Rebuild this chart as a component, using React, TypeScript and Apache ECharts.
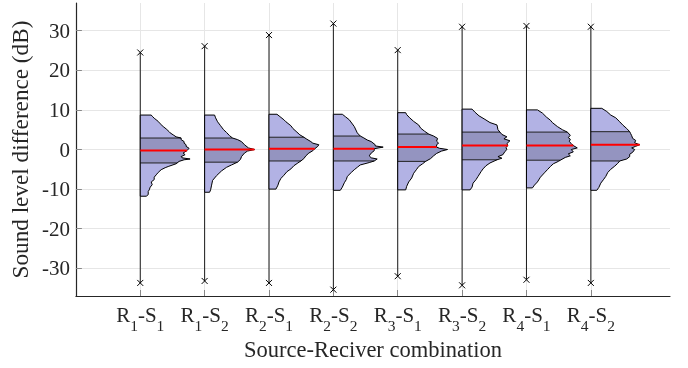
import React, { useEffect, useRef } from 'react';
import * as echarts from 'echarts';

const categories = ['R1-S1', 'R1-S2', 'R2-S1', 'R2-S2', 'R3-S1', 'R3-S2', 'R4-S1', 'R4-S2'];
const subR = ['1', '1', '2', '2', '3', '3', '4', '4'];
const subS = ['1', '2', '1', '2', '1', '2', '1', '2'];
const yTicks = [-30, -20, -10, 0, 10, 20, 30];

const maxima = [24.5, 26.1, 28.9, 31.8, 25.1, 31.0, 31.2, 31.0];
const minima = [-33.7, -33.2, -33.7, -35.4, -32.0, -34.3, -32.9, -33.7];
const q1 = [-3.4, -3.2, -2.9, -2.9, -3.0, -2.6, -2.7, -2.9];
const medians = [-0.25, 0.0, 0.2, 0.2, 0.6, 1.0, 1.0, 1.2];
const q3 = [2.9, 2.9, 3.1, 3.4, 3.9, 4.4, 4.4, 4.5];

// density profiles: [dB, density]
const profileR1S1 = [[-11.8, 6], [-11.4, 8], [-10.6, 8], [-10.2, 9], [-9.5, 10], [-8.9, 12], [-8.2, 11], [-7.6, 14], [-7.0, 14], [-6.4, 16], [-5.8, 18], [-5.1, 21], [-4.6, 25], [-4.3, 28], [-3.6, 36], [-3.0, 39], [-2.6, 44], [-2.4, 50], [-2.1, 42], [-1.8, 41], [-1.3, 45], [-0.9, 43], [-0.25, 47], [0.3, 49], [0.8, 46], [1.2, 46], [1.6, 44], [2.0, 44], [2.5, 41], [2.9, 41], [3.2, 36], [3.7, 33], [4.2, 30], [4.5, 29], [5.2, 26], [5.8, 23], [6.5, 20], [7.1, 18], [7.9, 14], [8.4, 12], [8.7, 11]];
const profileR1S2 = [[-10.8, 5], [-10.2, 6], [-9.0, 7], [-7.8, 8], [-6.6, 12], [-5.4, 17], [-4.5, 22], [-3.9, 27], [-3.2, 33], [-2.5, 36], [-1.8, 37], [-0.9, 40], [-0.4, 43], [0.0, 50], [0.4, 44], [1.2, 40], [2.0, 37], [2.5, 33], [2.9, 28], [3.5, 25], [4.3, 22], [5.0, 19], [6.0, 16], [7.0, 13], [8.0, 11], [8.7, 10]];
const profileR2S1 = [[-10.0, 7], [-9.0, 9], [-8.2, 10], [-7.3, 12], [-6.5, 15], [-5.6, 18], [-4.9, 22], [-4.1, 25], [-3.4, 29], [-2.9, 32], [-2.3, 35], [-1.6, 37], [-0.9, 40], [-0.3, 44], [0.2, 46], [0.8, 49], [1.2, 50], [1.6, 44], [2.0, 42], [2.6, 38], [3.1, 35], [3.7, 31], [4.4, 28], [5.3, 24], [6.0, 22], [7.0, 17], [7.5, 15], [8.3, 11], [8.9, 8]];
const profileR2S2 = [[-10.3, 7], [-9.5, 9], [-8.4, 11], [-7.6, 13], [-6.8, 14], [-5.8, 18], [-5.1, 21], [-4.5, 24], [-3.9, 27], [-3.3, 36], [-2.9, 41], [-2.4, 44], [-2.1, 38], [-1.6, 36], [-0.9, 38], [-0.3, 41], [0.2, 41], [0.6, 50], [0.9, 42], [1.2, 42], [2.0, 38], [2.4, 34], [3.0, 30], [3.4, 27], [4.2, 24], [5.8, 21], [7.5, 16], [8.3, 12], [8.9, 9]];
const profileR3S1 = [[-10.2, 8], [-9.3, 9], [-8.2, 11], [-7.2, 14], [-6.0, 16], [-5.0, 19], [-4.3, 21], [-3.6, 25], [-3.0, 28], [-2.3, 33], [-1.6, 36], [-1.0, 39], [-0.4, 44], [0.0, 50], [0.3, 42], [0.6, 39], [1.2, 39], [1.6, 41], [2.1, 39], [2.8, 40], [3.4, 36], [3.9, 31], [4.6, 27], [5.4, 23], [6.2, 21], [7.1, 16], [8.0, 12], [8.8, 9], [9.3, 8]];
const profileR3S2 = [[-10.2, 8], [-9.5, 10], [-8.5, 11], [-7.6, 14], [-6.8, 16], [-5.6, 19], [-4.9, 21], [-4.1, 24], [-3.4, 28], [-2.6, 35], [-2.2, 40], [-1.8, 36], [-1.3, 41], [-0.5, 43], [0.0, 45], [0.5, 44], [1.0, 46], [1.5, 45], [2.2, 48], [2.7, 42], [3.2, 45], [3.8, 40], [4.4, 38], [5.0, 36], [6.2, 35], [6.8, 28], [7.6, 23], [8.5, 17], [9.4, 13], [10.2, 10]];
const profileR4S1 = [[-9.7, 6], [-9.0, 8], [-8.2, 11], [-7.0, 14], [-5.9, 18], [-5.1, 21], [-4.3, 24], [-3.6, 27], [-3.0, 32], [-2.7, 34], [-2.0, 39], [-1.6, 44], [-1.1, 42], [-0.6, 47], [0.0, 45], [0.4, 51], [1.0, 47], [1.5, 45], [2.0, 43], [2.6, 44], [3.0, 42], [3.6, 44], [4.4, 41], [5.0, 36], [5.8, 31], [6.8, 26], [7.4, 24], [8.2, 20], [9.2, 16], [10.0, 11]];
const profileR4S2 = [[-10.3, 6], [-9.6, 8], [-8.5, 10], [-7.5, 13], [-6.8, 15], [-5.8, 17], [-5.0, 20], [-4.2, 24], [-3.5, 27], [-2.9, 29], [-2.4, 36], [-1.8, 39], [-1.2, 39], [-0.7, 42], [0.0, 44], [0.4, 41], [0.8, 45], [1.2, 49], [1.7, 44], [2.3, 45], [2.8, 42], [3.5, 41], [4.0, 40], [4.5, 39], [5.3, 36], [6.2, 32], [7.0, 29], [8.0, 25], [8.7, 20], [9.6, 16], [10.4, 11]];

const profiles = [profileR1S1, profileR1S2, profileR2S1, profileR2S2, profileR3S1, profileR3S2, profileR4S1, profileR4S2];

const DENSITY_SCALE = 1 / 64.6; // category units per density unit
const LIGHT = 'rgb(178,178,228)';
const DARK = 'rgb(148,148,192)';
const SERIF = '"Liberation Serif", "Times New Roman", serif';
const TXT = '#262626';

function widthAt(prof: number[][], y: number): number {
  for (let k = 0; k < prof.length - 1; k++) {
    const [y0, w0] = prof[k];
    const [y1, w1] = prof[k + 1];
    if (y >= y0 && y <= y1) {
      const t = y1 === y0 ? 0 : (y - y0) / (y1 - y0);
      return w0 + t * (w1 - w0);
    }
  }
  return 0;
}

export default function App() {
  const ref = useRef<HTMLDivElement>(null);
  useEffect(() => {
    if (!ref.current) return;
    const chart = echarts.init(ref.current, null, { renderer: 'svg' });

    const renderItem = (params: any, api: any) => {
      const i = params.dataIndex;
      const c = i + 1;
      const prof = profiles[i];
      const pt = (w: number, y: number) => api.coord([c + w * DENSITY_SCALE, y]);
      const yLo = prof[0][0];
      const yHi = prof[prof.length - 1][0];
      const outline = prof.map(([y, w]) => pt(w, y));
      const full = [pt(0, yLo), ...outline, pt(0, yHi)];
      const wq1 = widthAt(prof, q1[i]);
      const wq3 = widthAt(prof, q3[i]);
      const wmed = widthAt(prof, medians[i]);
      const inner = prof.filter(([y]) => y > q1[i] && y < q3[i]).map(([y, w]) => pt(w, y));
      const iqr = [pt(0, q1[i]), pt(wq1, q1[i]), ...inner, pt(wq3, q3[i]), pt(0, q3[i])];
      const top = api.coord([c, maxima[i]]);
      const bot = api.coord([c, minima[i]]);
      const m = 3;
      const cross = (p: number[]) => [
        { type: 'line', shape: { x1: p[0] - m, y1: p[1] - m, x2: p[0] + m, y2: p[1] + m }, style: { stroke: '#000', lineWidth: 1 } },
        { type: 'line', shape: { x1: p[0] - m, y1: p[1] + m, x2: p[0] + m, y2: p[1] - m }, style: { stroke: '#000', lineWidth: 1 } },
      ];
      const hline = (w: number, y: number, color: string, lw: number) => {
        const a = pt(0, y);
        const b = pt(w, y);
        return { type: 'line', shape: { x1: a[0], y1: a[1], x2: b[0], y2: b[1] }, style: { stroke: color, lineWidth: lw } };
      };
      return {
        type: 'group',
        children: [
          { type: 'line', shape: { x1: top[0], y1: top[1], x2: bot[0], y2: bot[1] }, style: { stroke: '#1a1a1a', lineWidth: 1 } },
          { type: 'polygon', shape: { points: full }, style: { fill: LIGHT, stroke: 'none' } },
          { type: 'polygon', shape: { points: iqr }, style: { fill: DARK, stroke: 'none' } },
          hline(wq1, q1[i], '#222', 1),
          hline(wq3, q3[i], '#222', 1),
          { type: 'polygon', shape: { points: full }, style: { fill: 'none', stroke: '#000', lineWidth: 1 } },
          hline(wmed, medians[i], '#ff0000', 2),
          ...cross(top),
          ...cross(bot),
        ],
      };
    };

    const catVals = categories.map((_, i) => i + 1);

    chart.setOption({
      animation: false,
      grid: { left: 74, right: 18, top: 3, bottom: 72, containLabel: false },
      xAxis: {
        type: 'value',
        min: 0,
        max: 9.23,
        name: 'Source-Reciver combination',
        nameLocation: 'middle',
        nameGap: 41,
        nameTextStyle: { fontFamily: SERIF, fontSize: 22.5, color: TXT, verticalAlign: 'top' },
        axisLine: { show: true, onZero: false, lineStyle: { color: TXT, width: 1.2 } },
        axisTick: { show: true, inside: true, length: 6, customValues: catVals, lineStyle: { color: '#888' } },
        splitLine: { show: true, lineStyle: { color: '#e6e6e6', width: 1 } },
        axisLabel: {
          customValues: catVals,
          margin: 8,
          formatter: (v: number) => {
            const i = Math.round(v) - 1;
            if (i < 0 || i >= categories.length) return '';
            return `{a|R}{s|${subR[i]}}{a|-S}{s|${subS[i]}}`;
          },
          rich: {
            a: { fontFamily: SERIF, fontSize: 21, color: TXT, lineHeight: 22, verticalAlign: 'top' },
            s: { fontFamily: SERIF, fontSize: 15.5, color: TXT, lineHeight: 15, padding: [13, 0, 0, 0], verticalAlign: 'top' },
          },
        },
      },
      yAxis: {
        type: 'value',
        min: -37,
        max: 37,
        name: 'Sound level difference (dB)',
        nameLocation: 'middle',
        nameGap: 31,
        nameTextStyle: { fontFamily: SERIF, fontSize: 23.2, color: TXT },
        axisLine: { show: true, onZero: false, lineStyle: { color: TXT, width: 1.2 } },
        axisTick: { show: true, inside: true, length: 6, customValues: yTicks, lineStyle: { color: '#888' } },
        splitLine: { show: true, lineStyle: { color: '#e6e6e6', width: 1 } },
        axisLabel: { customValues: yTicks, margin: 6, fontFamily: SERIF, fontSize: 21, color: TXT },
      },
      series: [
        {
          type: 'custom',
          renderItem,
          clip: false,
          encode: { x: 0, y: 1 },
          data: categories.map((_, i) => [i + 1, medians[i]]),
        },
      ],
    });
    return () => chart.dispose();
  }, []);
  return <div ref={ref} style={{ position: 'fixed', left: 0, top: 0, width: 688, height: 368 }} />;
}
